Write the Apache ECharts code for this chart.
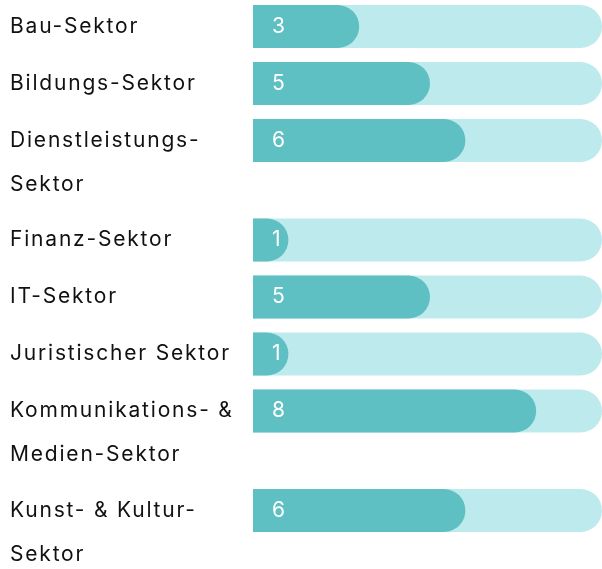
<!DOCTYPE html>
<html>
<head>
<meta charset="utf-8">
<script src="https://cdn.jsdelivr.net/npm/echarts@6/dist/echarts.min.js"></script>
<style>
  html, body { margin: 0; padding: 0; background: #ffffff; }
  #chart { width: 602px; height: 569px; }
</style>
</head>
<body>
<div id="chart"></div>
<script>
const categories = [
  'Bau-Sektor',
  'Bildungs-Sektor',
  'Dienstleistungs-\nSektor',
  'Finanz-Sektor',
  'IT-Sektor',
  'Juristischer Sektor',
  'Kommunikations- &\nMedien-Sektor',
  'Kunst- & Kultur-\nSektor'
];
const values = [3, 5, 6, 1, 5, 1, 8, 6];
const trackMax = 9.86;

const FONT = 'Inter';
const BAR_COLOR = '#5ec0c2';
const TRACK_COLOR = '#bdeaec';
const ROW_H = 43;
const ROW_GAP = 57;
const EXTRA_LINE = 42.5;

const grids = [], xAxes = [], yAxes = [], series = [];
let rowTop = 5;
categories.forEach(function (cat, i) {
  const lines = cat.split('\n').length;
  grids.push({ left: 253, width: 349, top: rowTop, height: ROW_H, outerBoundsMode: 'none', containLabel: false });
  xAxes.push({ type: 'value', gridIndex: i, min: 0, max: trackMax, show: false });
  yAxes.push({
    type: 'category', gridIndex: i, data: [cat],
    axisLine: { show: false }, axisTick: { show: false }, splitLine: { show: false },
    axisLabel: {
      margin: 243, align: 'left', fontSize: 21, color: '#111111',
      fontFamily: FONT, lineHeight: 44, hideOverlap: false,
      formatter: function (v) { return v.indexOf('\n') >= 0 ? '\n' + v : v; }
    }
  });
  series.push({
    type: 'bar', xAxisIndex: i, yAxisIndex: i, data: [values[i]],
    barWidth: '100%',
    itemStyle: { color: BAR_COLOR, borderRadius: [0, 21.5, 21.5, 0] },
    showBackground: true,
    backgroundStyle: { color: TRACK_COLOR, borderRadius: [0, 21.5, 21.5, 0] },
    label: { show: true, position: 'insideLeft', distance: 19, color: '#ffffff', fontSize: 21, fontFamily: FONT },
    silent: true
  });
  rowTop += ROW_GAP + EXTRA_LINE * (lines - 1);
});

const option = {
  backgroundColor: '#ffffff',
  animation: false,
  grid: grids,
  xAxis: xAxes,
  yAxis: yAxes,
  series: series
};

const chart = echarts.init(document.getElementById('chart'), null, { renderer: 'canvas' });
chart.setOption(option);
chart.getZr().refreshImmediately();
document.querySelectorAll('#chart canvas').forEach(function (c) {
  const ctx = c.getContext('2d');
  if ('letterSpacing' in ctx) ctx.letterSpacing = '1.8px';
});
chart.setOption(option, true);
chart.getZr().refreshImmediately();
</script>
</body>
</html>
